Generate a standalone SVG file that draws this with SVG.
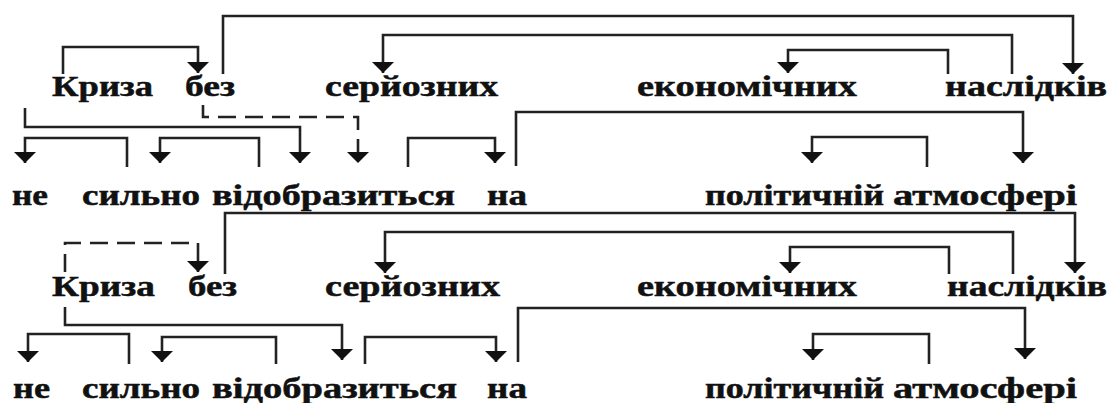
<svg xmlns="http://www.w3.org/2000/svg" width="1113" height="403" viewBox="0 0 1113 403">
<style>
text{font-family:"Liberation Serif","Times New Roman","DejaVu Serif",serif;font-weight:bold;font-size:30px;fill:#111;stroke:#111;stroke-width:0.5;}
.c{fill:none;stroke:#222;stroke-width:2.6;marker-end:url(#ah);}
.d{stroke-dasharray:18 9;}
</style>
<defs>
<marker id="ah" viewBox="0 0 11 22" refX="11" refY="11" markerWidth="11" markerHeight="22" markerUnits="userSpaceOnUse" orient="auto">
<path d="M0,0 L11,11 L0,22 z" fill="#111"/>
</marker>
</defs>
<rect width="1113" height="403" fill="#fff"/>
<g id="connectors">
<path class="c" d="M63,74 V47 H198 V73"/>
<path class="c" d="M223,74 V16 H1073 V74"/>
<path class="c" d="M1012,74 V35 H383 V73"/>
<path class="c" d="M948,74 V50 H788 V73"/>
<path class="c" d="M25,108 V127 H300 V163"/>
<path class="c d" d="M203,105 V117 H358 V163"/>
<path class="c" d="M127,167 V138 H25 V163"/>
<path class="c" d="M259,167 V138 H160 V163"/>
<path class="c" d="M408,167 V138 H495 V163"/>
<path class="c" d="M516,166 V112 H1023 V163"/>
<path class="c" d="M927,167 V137 H812 V163"/>
<path class="c d" d="M65,272 V243 H198 V272"/>
<path class="c" d="M225,274 V213 H1075 V273"/>
<path class="c" d="M1013,274 V232 H385 V273"/>
<path class="c" d="M949,274 V247 H790 V273"/>
<path class="c" d="M65,307 V325 H342 V360"/>
<path class="c" d="M129,364 V334 H28 V362"/>
<path class="c" d="M276,364 V337 H162 V362"/>
<path class="c" d="M365,364 V337 H496 V362"/>
<path class="c" d="M518,362 V308 H1025 V359"/>
<path class="c" d="M929,364 V334 H813 V360"/>
</g>
<g id="n1-kryza"><text x="52" y="96" textLength="101" lengthAdjust="spacingAndGlyphs">Криза</text></g>
<g id="n1-bez"><text x="185" y="96" textLength="50" lengthAdjust="spacingAndGlyphs">без</text></g>
<g id="n1-serioznykh"><text x="325" y="96" textLength="173" lengthAdjust="spacingAndGlyphs">серйозних</text></g>
<g id="n1-ekonomichnykh"><text x="637" y="96" textLength="220" lengthAdjust="spacingAndGlyphs">економічних</text></g>
<g id="n1-naslidkiv"><text x="945" y="96" textLength="162" lengthAdjust="spacingAndGlyphs">наслідків</text></g>
<g id="n1-ne"><text x="12" y="205" textLength="36" lengthAdjust="spacingAndGlyphs">не</text></g>
<g id="n1-sylno"><text x="82" y="205" textLength="118" lengthAdjust="spacingAndGlyphs">сильно</text></g>
<g id="n1-vidobrazytsia"><text x="212" y="205" textLength="243" lengthAdjust="spacingAndGlyphs">відобразиться</text></g>
<g id="n1-na"><text x="487" y="205" textLength="40" lengthAdjust="spacingAndGlyphs">на</text></g>
<g id="n1-politychnii"><text x="705" y="205" textLength="179" lengthAdjust="spacingAndGlyphs">політичній</text></g>
<g id="n1-atmosferi"><text x="893" y="205" textLength="184" lengthAdjust="spacingAndGlyphs">атмосфері</text></g>
<g id="n2-kryza"><text x="52" y="296" textLength="103" lengthAdjust="spacingAndGlyphs">Криза</text></g>
<g id="n2-bez"><text x="188" y="296" textLength="49" lengthAdjust="spacingAndGlyphs">без</text></g>
<g id="n2-serioznykh"><text x="325" y="296" textLength="175" lengthAdjust="spacingAndGlyphs">серйозних</text></g>
<g id="n2-ekonomichnykh"><text x="637" y="296" textLength="220" lengthAdjust="spacingAndGlyphs">економічних</text></g>
<g id="n2-naslidkiv"><text x="947" y="296" textLength="160" lengthAdjust="spacingAndGlyphs">наслідків</text></g>
<g id="n2-ne"><text x="13" y="398" textLength="37" lengthAdjust="spacingAndGlyphs">не</text></g>
<g id="n2-sylno"><text x="82" y="398" textLength="118" lengthAdjust="spacingAndGlyphs">сильно</text></g>
<g id="n2-vidobrazytsia"><text x="212" y="398" textLength="245" lengthAdjust="spacingAndGlyphs">відобразиться</text></g>
<g id="n2-na"><text x="487" y="398" textLength="40" lengthAdjust="spacingAndGlyphs">на</text></g>
<g id="n2-politychnii"><text x="705" y="398" textLength="179" lengthAdjust="spacingAndGlyphs">політичній</text></g>
<g id="n2-atmosferi"><text x="893" y="398" textLength="184" lengthAdjust="spacingAndGlyphs">атмосфері</text></g>
</svg>
